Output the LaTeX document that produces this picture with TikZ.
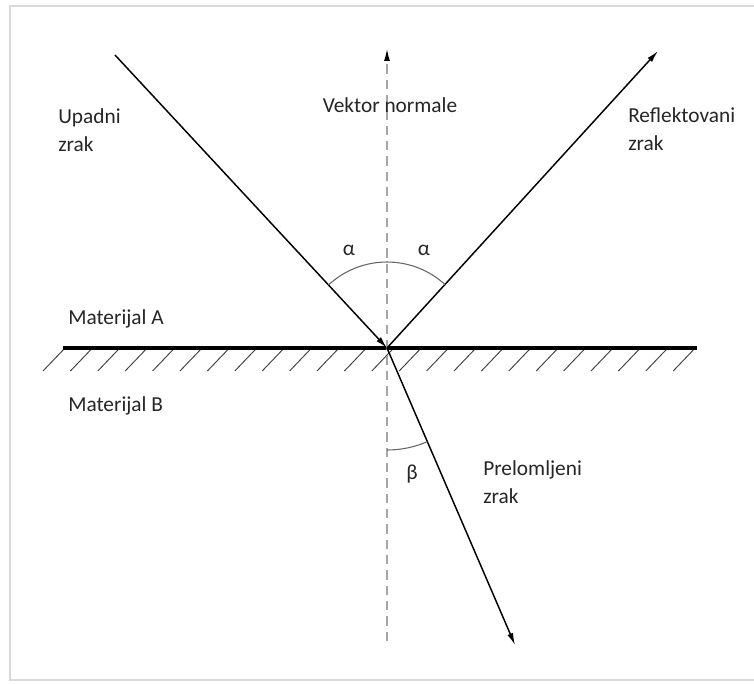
\documentclass[tikz,border=0pt]{standalone}
\usepackage{fontspec}
\setmainfont{Carlito}
\usetikzlibrary{arrows.meta}

\begin{document}
\begin{tikzpicture}[x=0.75pt, y=0.75pt, >={Latex[length=9pt,width=4.5pt]},
    lbl/.style={font=\fontsize{16}{21}\selectfont, inner sep=0pt, align=left, text=black!85},
    ray/.style={line width=1.1pt, ->},
    surface/.style={line width=3pt},
    hatch/.style={line width=0.7pt, black!75},
    normalline/.style={gray!70, line width=0.8pt, dash pattern=on 7pt off 4.5pt},
    anglearc/.style={gray!80!black, line width=0.8pt}]
    \useasboundingbox (0,0) rectangle (754,683);
    \fill[white] (0,0) rectangle (754,683);
    % frame
    \draw[gray!30, line width=1.5pt] (10,3) rectangle (790,677);
    % points
    \coordinate (O) at (387,335);
    \coordinate (inc) at (115,628);
    \coordinate (refl) at (658,632);
    \coordinate (ntop) at (387,634);
    \coordinate (nbot) at (387,42);
    \coordinate (refr) at (515,38);
    \coordinate (sl) at (63,335);
    \coordinate (sr) at (697,335);
    % hatching of material B
    \foreach \i in {0,...,23}
        \draw[hatch] ({65+27.4*\i},335) -- ++(-22,-23);
    \draw[surface] (sl) -- (sr);
    % normal
    \draw[normalline, -{Latex[length=9pt,width=4.5pt,color=black]}] (nbot) -- (ntop);
    % rays
    \draw[ray] (inc) -- (O);
    \draw[ray] (O) -- (refl);
    \draw[ray] (O) -- (refr);
    % angles
    \draw[anglearc] ([shift={(47.6:86)}]O) arc (47.6:132.9:86);
    \draw[anglearc] ([shift={(270:102)}]O) arc (270:293.3:102);
    % labels (base = last line)
    \node[lbl, anchor=base west] (upadni) at (58,531) {Upadni\\zrak};
    \node[lbl, anchor=base] (vektor) at (390,570) {Vektor normale};
    \node[lbl, anchor=base west] (reflekt) at (628,532) {Reflektovani\\zrak};
    \node[lbl, anchor=base west] (matA) at (68,358) {Materijal A};
    \node[lbl, anchor=base west] (matB) at (68,271) {Materijal B};
    \node[lbl] (alfa1) at (349,433) {α};
    \node[lbl] (alfa2) at (424,433) {α};
    \node[lbl] (beta) at (412,209) {β};
    \node[lbl, anchor=base west] (prelom) at (483,180) {Prelomljeni\\zrak};
\end{tikzpicture}
\end{document}
